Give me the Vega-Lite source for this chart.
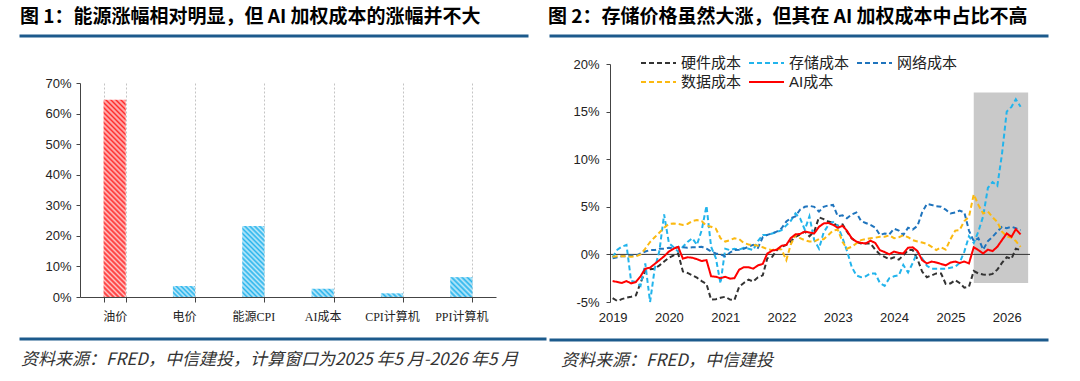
{
  "$schema": "https://vega.github.io/schema/vega-lite/v6.json",
  "background": "white",
  "padding": {"left": 18, "top": 7, "right": 0, "bottom": 0},
  "config": {"view": {"stroke": null}, "font": "Liberation Sans"},
  "datasets": {
    "cost": [
      {"month": "2019-01", "硬件成本": -4.6, "存储成本": -0.3, "网络成本": -0.4, "数据成本": -0.25, "AI成本": -2.8},
      {"month": "2019-02", "硬件成本": -4.9, "存储成本": 0.5, "网络成本": -0.3, "数据成本": -0.2, "AI成本": -2.9},
      {"month": "2019-03", "硬件成本": -4.7, "存储成本": 0.8, "网络成本": -0.2, "数据成本": -0.2, "AI成本": -3.0},
      {"month": "2019-04", "硬件成本": -4.55, "存储成本": 1.0, "网络成本": -0.2, "数据成本": -0.2, "AI成本": -2.8},
      {"month": "2019-05", "硬件成本": -4.45, "存储成本": -2.8, "网络成本": -0.1, "数据成本": -0.25, "AI成本": -3.05},
      {"month": "2019-06", "硬件成本": -4.3, "存储成本": -2.9, "网络成本": -0.15, "数据成本": -0.2, "AI成本": -2.9},
      {"month": "2019-07", "硬件成本": -3.0, "存储成本": -3.3, "网络成本": 0.1, "数据成本": 0.0, "AI成本": -2.3},
      {"month": "2019-08", "硬件成本": -1.7, "存储成本": -0.95, "网络成本": 0.3, "数据成本": 0.6, "AI成本": -1.5},
      {"month": "2019-09", "硬件成本": -1.55, "存储成本": -5.0, "网络成本": 0.45, "数据成本": 1.3, "AI成本": -1.4},
      {"month": "2019-10", "硬件成本": -1.5, "存储成本": -1.5, "网络成本": 0.45, "数据成本": 1.8, "AI成本": -1.0},
      {"month": "2019-11", "硬件成本": -1.15, "存储成本": 0.4, "网络成本": 0.6, "数据成本": 2.3, "AI成本": -0.6},
      {"month": "2019-12", "硬件成本": -0.75, "存储成本": 4.2, "网络成本": 0.6, "数据成本": 2.8, "AI成本": -0.2},
      {"month": "2020-01", "硬件成本": -0.35, "存储成本": 1.2, "网络成本": 0.7, "数据成本": 3.2, "AI成本": 0.3},
      {"month": "2020-02", "硬件成本": -0.1, "存储成本": 0.75, "网络成本": 0.65, "数据成本": 3.25, "AI成本": 0.6},
      {"month": "2020-03", "硬件成本": 0.1, "存储成本": 0.3, "网络成本": 0.75, "数据成本": 3.2, "AI成本": 0.8},
      {"month": "2020-04", "硬件成本": -1.8, "存储成本": 0.8, "网络成本": 0.75, "数据成本": 3.1, "AI成本": -0.45},
      {"month": "2020-05", "硬件成本": -1.95, "存储成本": 1.3, "网络成本": 0.7, "数据成本": 3.2, "AI成本": -0.3},
      {"month": "2020-06", "硬件成本": -2.2, "存储成本": 1.7, "网络成本": 0.75, "数据成本": 3.5, "AI成本": -0.35},
      {"month": "2020-07", "硬件成本": -2.45, "存储成本": 1.0, "网络成本": 0.75, "数据成本": 3.6, "AI成本": -0.5},
      {"month": "2020-08", "硬件成本": -2.8, "存储成本": 2.55, "网络成本": 0.8, "数据成本": 3.5, "AI成本": -0.7},
      {"month": "2020-09", "硬件成本": -3.1, "存储成本": 5.1, "网络成本": 0.6, "数据成本": 3.0, "AI成本": -0.6},
      {"month": "2020-10", "硬件成本": -4.75, "存储成本": 0.8, "网络成本": 0.3, "数据成本": 2.9, "AI成本": -2.3},
      {"month": "2020-11", "硬件成本": -4.7, "存储成本": -0.4, "网络成本": 0.1, "数据成本": 2.7, "AI成本": -2.35},
      {"month": "2020-12", "硬件成本": -4.55, "存储成本": -3.05, "网络成本": 0.0, "数据成本": 1.7, "AI成本": -2.5},
      {"month": "2021-01", "硬件成本": -4.45, "存储成本": 0.6, "网络成本": -0.2, "数据成本": 1.35, "AI成本": -2.35},
      {"month": "2021-02", "硬件成本": -4.75, "存储成本": 0.45, "网络成本": 0.2, "数据成本": 1.5, "AI成本": -2.55},
      {"month": "2021-03", "硬件成本": -4.8, "存储成本": 0.6, "网络成本": 0.45, "数据成本": 1.7, "AI成本": -2.5},
      {"month": "2021-04", "硬件成本": -3.4, "存储成本": 0.5, "网络成本": 0.5, "数据成本": 1.6, "AI成本": -1.6},
      {"month": "2021-05", "硬件成本": -3.0, "存储成本": 0.7, "网络成本": 0.6, "数据成本": 1.2, "AI成本": -1.35},
      {"month": "2021-06", "硬件成本": -2.65, "存储成本": 0.6, "网络成本": 0.8, "数据成本": 1.05, "AI成本": -1.35},
      {"month": "2021-07", "硬件成本": -2.85, "存储成本": 0.45, "网络成本": 1.0, "数据成本": 1.0, "AI成本": -1.5},
      {"month": "2021-08", "硬件成本": -2.4, "存储成本": 1.4, "网络成本": 0.7, "数据成本": 0.9, "AI成本": -1.15},
      {"month": "2021-09", "硬件成本": -2.2, "存储成本": 2.05, "网络成本": 1.8, "数据成本": 0.75, "AI成本": -1.0},
      {"month": "2021-10", "硬件成本": -0.4, "存储成本": 2.05, "网络成本": 2.05, "数据成本": 0.55, "AI成本": 0.1},
      {"month": "2021-11", "硬件成本": -0.25, "存储成本": 2.2, "网络成本": 2.2, "数据成本": 0.45, "AI成本": 0.4},
      {"month": "2021-12", "硬件成本": 0.45, "存储成本": 2.35, "网络成本": 2.4, "数据成本": 0.6, "AI成本": 0.5},
      {"month": "2022-01", "硬件成本": 0.8, "存储成本": 2.55, "网络成本": 2.75, "数据成本": 0.5, "AI成本": 0.9},
      {"month": "2022-02", "硬件成本": 1.0, "存储成本": 3.05, "网络成本": 3.45, "数据成本": -0.6, "AI成本": 1.0},
      {"month": "2022-03", "硬件成本": 1.35, "存储成本": 3.5, "网络成本": 3.8, "数据成本": 1.0, "AI成本": 1.7},
      {"month": "2022-04", "硬件成本": 1.85, "存储成本": 4.3, "网络成本": 4.0, "数据成本": 2.05, "AI成本": 2.1},
      {"month": "2022-05", "硬件成本": 2.1, "存储成本": 3.8, "网络成本": 4.7, "数据成本": 1.7, "AI成本": 2.15},
      {"month": "2022-06", "硬件成本": 2.4, "存储成本": 2.6, "网络成本": 5.0, "数据成本": 1.5, "AI成本": 2.4},
      {"month": "2022-07", "硬件成本": 1.9, "存储成本": 4.0, "网络成本": 5.1, "数据成本": 1.35, "AI成本": 2.3},
      {"month": "2022-08", "硬件成本": 2.4, "存储成本": 1.5, "网络成本": 5.0, "数据成本": 1.35, "AI成本": 2.2},
      {"month": "2022-09", "硬件成本": 3.9, "存储成本": 0.6, "网络成本": 4.5, "数据成本": 1.6, "AI成本": 2.9},
      {"month": "2022-10", "硬件成本": 3.7, "存储成本": 2.3, "网络成本": 5.0, "数据成本": 1.6, "AI成本": 3.25},
      {"month": "2022-11", "硬件成本": 3.45, "存储成本": 3.1, "网络成本": 5.15, "数据成本": 2.05, "AI成本": 3.3},
      {"month": "2022-12", "硬件成本": 3.3, "存储成本": 3.4, "网络成本": 5.2, "数据成本": 2.5, "AI成本": 3.1},
      {"month": "2023-01", "硬件成本": 3.0, "存储成本": 3.0, "网络成本": 4.0, "数据成本": 2.6, "AI成本": 2.8},
      {"month": "2023-02", "硬件成本": 3.15, "存储成本": 1.7, "网络成本": 4.1, "数据成本": 1.3, "AI成本": 3.0},
      {"month": "2023-03", "硬件成本": 2.4, "存储成本": 0.4, "网络成本": 3.8, "数据成本": 0.6, "AI成本": 2.5},
      {"month": "2023-04", "硬件成本": 1.7, "存储成本": -1.3, "网络成本": 4.2, "数据成本": 0.8, "AI成本": 1.7},
      {"month": "2023-05", "硬件成本": 1.3, "存储成本": -2.2, "网络成本": 4.4, "数据成本": 1.15, "AI成本": 1.35},
      {"month": "2023-06", "硬件成本": 1.15, "存储成本": -2.4, "网络成本": 3.5, "数据成本": 1.5, "AI成本": 1.2},
      {"month": "2023-07", "硬件成本": 1.15, "存储成本": -2.3, "网络成本": 3.3, "数据成本": 1.6, "AI成本": 1.15},
      {"month": "2023-08", "硬件成本": 1.15, "存储成本": -2.0, "网络成本": 3.1, "数据成本": 1.7, "AI成本": 1.45},
      {"month": "2023-09", "硬件成本": 0.5, "存储成本": -2.0, "网络成本": 2.8, "数据成本": 1.75, "AI成本": 1.2},
      {"month": "2023-10", "硬件成本": 0.0, "存储成本": -3.0, "网络成本": 2.05, "数据成本": 1.85, "AI成本": 0.45},
      {"month": "2023-11", "硬件成本": -0.25, "存储成本": -3.3, "网络成本": 2.2, "数据成本": 1.85, "AI成本": 0.25},
      {"month": "2023-12", "硬件成本": -0.5, "存储成本": -2.5, "网络成本": 2.1, "数据成本": 2.0, "AI成本": 0.0},
      {"month": "2024-01", "硬件成本": -0.3, "存储成本": -2.3, "网络成本": 2.7, "数据成本": 1.7, "AI成本": 0.3},
      {"month": "2024-02", "硬件成本": -0.55, "存储成本": -2.2, "网络成本": 2.5, "数据成本": 1.8, "AI成本": 0.15},
      {"month": "2024-03", "硬件成本": -0.1, "存储成本": -1.1, "网络成本": 2.05, "数据成本": 2.0, "AI成本": 0.1},
      {"month": "2024-04", "硬件成本": 0.45, "存储成本": -1.9, "网络成本": 2.8, "数据成本": 1.8, "AI成本": 0.7},
      {"month": "2024-05", "硬件成本": 0.45, "存储成本": -0.9, "网络成本": 2.6, "数据成本": 1.5, "AI成本": 0.75},
      {"month": "2024-06", "硬件成本": -0.5, "存储成本": 0.25, "网络成本": 3.0, "数据成本": 1.35, "AI成本": 0.35},
      {"month": "2024-07", "硬件成本": -1.8, "存储成本": -0.4, "网络成本": 4.4, "数据成本": 1.25, "AI成本": -0.6},
      {"month": "2024-08", "硬件成本": -2.4, "存储成本": -1.2, "网络成本": 5.3, "数据成本": 1.1, "AI成本": -0.95},
      {"month": "2024-09", "硬件成本": -2.2, "存储成本": -1.5, "网络成本": 5.2, "数据成本": 0.8, "AI成本": -0.75},
      {"month": "2024-10", "硬件成本": -2.0, "存储成本": -1.5, "网络成本": 5.05, "数据成本": 0.45, "AI成本": -0.85},
      {"month": "2024-11", "硬件成本": -2.0, "存储成本": -1.5, "网络成本": 5.0, "数据成本": 0.75, "AI成本": -1.0},
      {"month": "2024-12", "硬件成本": -3.1, "存储成本": -1.5, "网络成本": 4.7, "数据成本": 0.5, "AI成本": -1.15},
      {"month": "2025-01", "硬件成本": -3.05, "存储成本": -1.4, "网络成本": 4.3, "数据成本": 1.6, "AI成本": -0.85},
      {"month": "2025-02", "硬件成本": -2.7, "存储成本": -1.3, "网络成本": 4.4, "数据成本": 2.5, "AI成本": -0.75},
      {"month": "2025-03", "硬件成本": -3.0, "存储成本": -0.9, "网络成本": 4.6, "数据成本": 2.55, "AI成本": -0.9},
      {"month": "2025-04", "硬件成本": -3.5, "存储成本": 0.3, "网络成本": 4.4, "数据成本": 3.5, "AI成本": -0.75},
      {"month": "2025-05", "硬件成本": -3.4, "存储成本": 1.9, "网络成本": 2.5, "数据成本": 3.95, "AI成本": -0.95},
      {"month": "2025-06", "硬件成本": -1.75, "存储成本": 1.2, "网络成本": 1.4, "数据成本": 6.3, "AI成本": 0.75},
      {"month": "2025-07", "硬件成本": -2.0, "存储成本": 2.4, "网络成本": 1.7, "数据成本": 5.2, "AI成本": 0.45},
      {"month": "2025-08", "硬件成本": -2.1, "存储成本": 4.0, "网络成本": 0.5, "数据成本": 4.3, "AI成本": 0.1},
      {"month": "2025-09", "硬件成本": -2.15, "存储成本": 7.0, "网络成本": 1.4, "数据成本": 4.5, "AI成本": 0.5},
      {"month": "2025-10", "硬件成本": -2.05, "存储成本": 7.6, "网络成本": 1.85, "数据成本": 3.9, "AI成本": 0.35},
      {"month": "2025-11", "硬件成本": -1.6, "存储成本": 7.2, "网络成本": 2.4, "数据成本": 3.4, "AI成本": 0.8},
      {"month": "2025-12", "硬件成本": -0.9, "存储成本": 10.5, "网络成本": 2.9, "数据成本": 2.4, "AI成本": 1.5},
      {"month": "2026-01", "硬件成本": -0.3, "存储成本": 15.0, "网络成本": 2.75, "数据成本": 1.9, "AI成本": 2.2},
      {"month": "2026-02", "硬件成本": -0.45, "存储成本": 15.5, "网络成本": 2.9, "数据成本": 1.75, "AI成本": 1.85},
      {"month": "2026-03", "硬件成本": 0.6, "存储成本": 16.3, "网络成本": 2.75, "数据成本": 1.4, "AI成本": 2.65},
      {"month": "2026-04", "硬件成本": 0.45, "存储成本": 15.5, "网络成本": 2.55, "数据成本": 0.8, "AI成本": 2.1}
    ]
  },
  "spacing": 0,
  "resolve": {"scale": {"color": "independent", "strokeDash": "independent", "strokeWidth": "independent"}},
  "hconcat": [
    {
      "spacing": 10,
      "vconcat": [
        {
          "width": 450,
          "height": 31,
          "data": {"values": [{}]},
          "title": {"text": "图 1：能源涨幅相对明显，但 AI 加权成本的涨幅并不大", "anchor": "start", "frame": "bounds", "dx": 2, "font": "Noto Sans CJK SC", "fontSize": 19, "fontWeight": "bold", "color": "#000000", "offset": 8},
          "mark": {"type": "rule", "color": "#1c5a8c", "strokeWidth": 3},
          "encoding": {
            "x": {"datum": 0, "type": "quantitative", "scale": {"domain": [0, 1], "range": [-60.5, 448.5]}, "axis": null},
            "x2": {"datum": 1},
            "y": {"datum": 1, "type": "quantitative", "scale": {"domain": [0, 1]}, "axis": null}
          }
        },
        {
          "width": 416,
          "height": 214,
          "data": {"values": [
            {"item": "油价", "v": 0.645},
            {"item": "电价", "v": 0.036},
            {"item": "能源CPI", "v": 0.232},
            {"item": "AI成本", "v": 0.027},
            {"item": "CPI计算机", "v": 0.012},
            {"item": "PPI计算机", "v": 0.065}
          ]},
          "mark": {"type": "bar"},
          "encoding": {
            "x": {
              "field": "item", "type": "nominal", "sort": null,
              "scale": {"paddingInner": 0.68, "paddingOuter": 0.34},
              "axis": {"title": null, "labelAngle": 0, "tickBand": "extent", "grid": true, "gridDash": [2, 2], "gridColor": "#c4c4c4", "domainColor": "#444444", "tickColor": "#444444", "tickSize": 5, "labelPadding": 9, "labelFont": "Liberation Serif, Noto Sans CJK SC", "labelFontSize": 12, "labelColor": "#222222"}
            },
            "y": {
              "field": "v", "type": "quantitative",
              "scale": {"domain": [0, 0.7], "nice": false},
              "axis": {"title": null, "values": [0, 0.1, 0.2, 0.3, 0.4, 0.5, 0.6, 0.7], "format": ".0%", "grid": false, "domainColor": "#444444", "tickColor": "#444444", "tickSize": 4, "labelPadding": 5, "labelFont": "Liberation Sans", "labelFontSize": 13, "labelColor": "#222222", "minExtent": 62}
            },
            "fill": {
              "condition": [
                {"test": "datum.item === '油价'", "value": {"gradient": "linear", "x1": 0, "y1": 1, "x2": 0.1237, "y2": -0.0988, "stops": [
                  {"offset": 0, "color": "#ff2b2b"}, {"offset": 0.0114, "color": "#ffc4c4"}, {"offset": 0.0227, "color": "#ff2b2b"}, {"offset": 0.0341, "color": "#ffc4c4"},
                  {"offset": 0.0455, "color": "#ff2b2b"}, {"offset": 0.0568, "color": "#ffc4c4"}, {"offset": 0.0682, "color": "#ff2b2b"}, {"offset": 0.0795, "color": "#ffc4c4"},
                  {"offset": 0.0909, "color": "#ff2b2b"}, {"offset": 0.1023, "color": "#ffc4c4"}, {"offset": 0.1136, "color": "#ff2b2b"}, {"offset": 0.125, "color": "#ffc4c4"},
                  {"offset": 0.1364, "color": "#ff2b2b"}, {"offset": 0.1477, "color": "#ffc4c4"}, {"offset": 0.1591, "color": "#ff2b2b"}, {"offset": 0.1705, "color": "#ffc4c4"},
                  {"offset": 0.1818, "color": "#ff2b2b"}, {"offset": 0.1932, "color": "#ffc4c4"}, {"offset": 0.2045, "color": "#ff2b2b"}, {"offset": 0.2159, "color": "#ffc4c4"},
                  {"offset": 0.2273, "color": "#ff2b2b"}, {"offset": 0.2386, "color": "#ffc4c4"}, {"offset": 0.25, "color": "#ff2b2b"}, {"offset": 0.2614, "color": "#ffc4c4"},
                  {"offset": 0.2727, "color": "#ff2b2b"}, {"offset": 0.2841, "color": "#ffc4c4"}, {"offset": 0.2955, "color": "#ff2b2b"}, {"offset": 0.3068, "color": "#ffc4c4"},
                  {"offset": 0.3182, "color": "#ff2b2b"}, {"offset": 0.3295, "color": "#ffc4c4"}, {"offset": 0.3409, "color": "#ff2b2b"}, {"offset": 0.3523, "color": "#ffc4c4"},
                  {"offset": 0.3636, "color": "#ff2b2b"}, {"offset": 0.375, "color": "#ffc4c4"}, {"offset": 0.3864, "color": "#ff2b2b"}, {"offset": 0.3977, "color": "#ffc4c4"},
                  {"offset": 0.4091, "color": "#ff2b2b"}, {"offset": 0.4205, "color": "#ffc4c4"}, {"offset": 0.4318, "color": "#ff2b2b"}, {"offset": 0.4432, "color": "#ffc4c4"},
                  {"offset": 0.4545, "color": "#ff2b2b"}, {"offset": 0.4659, "color": "#ffc4c4"}, {"offset": 0.4773, "color": "#ff2b2b"}, {"offset": 0.4886, "color": "#ffc4c4"},
                  {"offset": 0.5, "color": "#ff2b2b"}, {"offset": 0.5114, "color": "#ffc4c4"}, {"offset": 0.5227, "color": "#ff2b2b"}, {"offset": 0.5341, "color": "#ffc4c4"},
                  {"offset": 0.5455, "color": "#ff2b2b"}, {"offset": 0.5568, "color": "#ffc4c4"}, {"offset": 0.5682, "color": "#ff2b2b"}, {"offset": 0.5795, "color": "#ffc4c4"},
                  {"offset": 0.5909, "color": "#ff2b2b"}, {"offset": 0.6023, "color": "#ffc4c4"}, {"offset": 0.6136, "color": "#ff2b2b"}, {"offset": 0.625, "color": "#ffc4c4"},
                  {"offset": 0.6364, "color": "#ff2b2b"}, {"offset": 0.6477, "color": "#ffc4c4"}, {"offset": 0.6591, "color": "#ff2b2b"}, {"offset": 0.6705, "color": "#ffc4c4"},
                  {"offset": 0.6818, "color": "#ff2b2b"}, {"offset": 0.6932, "color": "#ffc4c4"}, {"offset": 0.7045, "color": "#ff2b2b"}, {"offset": 0.7159, "color": "#ffc4c4"},
                  {"offset": 0.7273, "color": "#ff2b2b"}, {"offset": 0.7386, "color": "#ffc4c4"}, {"offset": 0.75, "color": "#ff2b2b"}, {"offset": 0.7614, "color": "#ffc4c4"},
                  {"offset": 0.7727, "color": "#ff2b2b"}, {"offset": 0.7841, "color": "#ffc4c4"}, {"offset": 0.7955, "color": "#ff2b2b"}, {"offset": 0.8068, "color": "#ffc4c4"},
                  {"offset": 0.8182, "color": "#ff2b2b"}, {"offset": 0.8295, "color": "#ffc4c4"}, {"offset": 0.8409, "color": "#ff2b2b"}, {"offset": 0.8523, "color": "#ffc4c4"},
                  {"offset": 0.8636, "color": "#ff2b2b"}, {"offset": 0.875, "color": "#ffc4c4"}, {"offset": 0.8864, "color": "#ff2b2b"}, {"offset": 0.8977, "color": "#ffc4c4"},
                  {"offset": 0.9091, "color": "#ff2b2b"}, {"offset": 0.9205, "color": "#ffc4c4"}, {"offset": 0.9318, "color": "#ff2b2b"}, {"offset": 0.9432, "color": "#ffc4c4"},
                  {"offset": 0.9545, "color": "#ff2b2b"}, {"offset": 0.9659, "color": "#ffc4c4"}, {"offset": 0.9773, "color": "#ff2b2b"}, {"offset": 0.9886, "color": "#ffc4c4"},
                  {"offset": 1, "color": "#ff2b2b"}
                ]}},
                {"test": "datum.item === '电价'", "value": {"gradient": "linear", "x1": 0, "y1": 1, "x2": 1.2008, "y2": 0.405, "stops": [
                  {"offset": 0, "color": "#27b4ec"}, {"offset": 0.0714, "color": "#c2eafa"}, {"offset": 0.1429, "color": "#27b4ec"}, {"offset": 0.2143, "color": "#c2eafa"},
                  {"offset": 0.2857, "color": "#27b4ec"}, {"offset": 0.3571, "color": "#c2eafa"}, {"offset": 0.4286, "color": "#27b4ec"}, {"offset": 0.5, "color": "#c2eafa"},
                  {"offset": 0.5714, "color": "#27b4ec"}, {"offset": 0.6429, "color": "#c2eafa"}, {"offset": 0.7143, "color": "#27b4ec"}, {"offset": 0.7857, "color": "#c2eafa"},
                  {"offset": 0.8571, "color": "#27b4ec"}, {"offset": 0.9286, "color": "#c2eafa"}, {"offset": 1, "color": "#27b4ec"}
                ]}},
                {"test": "datum.item === '能源CPI'", "value": {"gradient": "linear", "x1": 0, "y1": 1, "x2": 0.3744, "y2": -0.1958, "stops": [
                  {"offset": 0, "color": "#27b4ec"}, {"offset": 0.0263, "color": "#c2eafa"}, {"offset": 0.0526, "color": "#27b4ec"}, {"offset": 0.0789, "color": "#c2eafa"},
                  {"offset": 0.1053, "color": "#27b4ec"}, {"offset": 0.1316, "color": "#c2eafa"}, {"offset": 0.1579, "color": "#27b4ec"}, {"offset": 0.1842, "color": "#c2eafa"},
                  {"offset": 0.2105, "color": "#27b4ec"}, {"offset": 0.2368, "color": "#c2eafa"}, {"offset": 0.2632, "color": "#27b4ec"}, {"offset": 0.2895, "color": "#c2eafa"},
                  {"offset": 0.3158, "color": "#27b4ec"}, {"offset": 0.3421, "color": "#c2eafa"}, {"offset": 0.3684, "color": "#27b4ec"}, {"offset": 0.3947, "color": "#c2eafa"},
                  {"offset": 0.4211, "color": "#27b4ec"}, {"offset": 0.4474, "color": "#c2eafa"}, {"offset": 0.4737, "color": "#27b4ec"}, {"offset": 0.5, "color": "#c2eafa"},
                  {"offset": 0.5263, "color": "#27b4ec"}, {"offset": 0.5526, "color": "#c2eafa"}, {"offset": 0.5789, "color": "#27b4ec"}, {"offset": 0.6053, "color": "#c2eafa"},
                  {"offset": 0.6316, "color": "#27b4ec"}, {"offset": 0.6579, "color": "#c2eafa"}, {"offset": 0.6842, "color": "#27b4ec"}, {"offset": 0.7105, "color": "#c2eafa"},
                  {"offset": 0.7368, "color": "#27b4ec"}, {"offset": 0.7632, "color": "#c2eafa"}, {"offset": 0.7895, "color": "#27b4ec"}, {"offset": 0.8158, "color": "#c2eafa"},
                  {"offset": 0.8421, "color": "#27b4ec"}, {"offset": 0.8684, "color": "#c2eafa"}, {"offset": 0.8947, "color": "#27b4ec"}, {"offset": 0.9211, "color": "#c2eafa"},
                  {"offset": 0.9474, "color": "#27b4ec"}, {"offset": 0.9737, "color": "#c2eafa"}, {"offset": 1, "color": "#27b4ec"}
                ]}},
                {"test": "datum.item === 'AI成本'", "value": {"gradient": "linear", "x1": 0, "y1": 1, "x2": 1.2052, "y2": 0.5521, "stops": [
                  {"offset": 0, "color": "#27b4ec"}, {"offset": 0.0833, "color": "#c2eafa"}, {"offset": 0.1667, "color": "#27b4ec"}, {"offset": 0.25, "color": "#c2eafa"},
                  {"offset": 0.3333, "color": "#27b4ec"}, {"offset": 0.4167, "color": "#c2eafa"}, {"offset": 0.5, "color": "#27b4ec"}, {"offset": 0.5833, "color": "#c2eafa"},
                  {"offset": 0.6667, "color": "#27b4ec"}, {"offset": 0.75, "color": "#c2eafa"}, {"offset": 0.8333, "color": "#27b4ec"}, {"offset": 0.9167, "color": "#c2eafa"},
                  {"offset": 1, "color": "#27b4ec"}
                ]}},
                {"test": "datum.item === 'CPI计算机'", "value": {"gradient": "linear", "x1": 0, "y1": 1, "x2": 1.1343, "y2": 0.8125, "stops": [
                  {"offset": 0, "color": "#27b4ec"}, {"offset": 0.1, "color": "#c2eafa"}, {"offset": 0.2, "color": "#27b4ec"}, {"offset": 0.3, "color": "#c2eafa"},
                  {"offset": 0.4, "color": "#27b4ec"}, {"offset": 0.5, "color": "#c2eafa"}, {"offset": 0.6, "color": "#27b4ec"}, {"offset": 0.7, "color": "#c2eafa"},
                  {"offset": 0.8, "color": "#27b4ec"}, {"offset": 0.9, "color": "#c2eafa"}, {"offset": 1, "color": "#27b4ec"}
                ]}},
                {"test": "datum.item === 'PPI计算机'", "value": {"gradient": "linear", "x1": 0, "y1": 1, "x2": 1.0522, "y2": 0.0582, "stops": [
                  {"offset": 0, "color": "#27b4ec"}, {"offset": 0.0625, "color": "#c2eafa"}, {"offset": 0.125, "color": "#27b4ec"}, {"offset": 0.1875, "color": "#c2eafa"},
                  {"offset": 0.25, "color": "#27b4ec"}, {"offset": 0.3125, "color": "#c2eafa"}, {"offset": 0.375, "color": "#27b4ec"}, {"offset": 0.4375, "color": "#c2eafa"},
                  {"offset": 0.5, "color": "#27b4ec"}, {"offset": 0.5625, "color": "#c2eafa"}, {"offset": 0.625, "color": "#27b4ec"}, {"offset": 0.6875, "color": "#c2eafa"},
                  {"offset": 0.75, "color": "#27b4ec"}, {"offset": 0.8125, "color": "#c2eafa"}, {"offset": 0.875, "color": "#27b4ec"}, {"offset": 0.9375, "color": "#c2eafa"},
                  {"offset": 1, "color": "#27b4ec"}
                ]}}
              ],
              "value": "#27b4ec"
            }
          }
        },
        {
          "width": 468,
          "height": 7,
          "data": {"values": [{}]},
          "title": {"text": "资料来源：FRED，中信建投，计算窗口为2025 年5 月-2026 年5 月", "orient": "bottom", "anchor": "start", "frame": "bounds", "dx": 3, "font": "Noto Sans CJK SC", "fontSize": 17, "fontStyle": "italic", "fontWeight": "normal", "color": "#333333", "offset": 11},
          "mark": {"type": "rule", "color": "#1c5a8c", "strokeWidth": 3},
          "encoding": {
            "x": {"datum": 0, "type": "quantitative", "scale": {"domain": [0, 1], "range": [-60.5, 466.5]}, "axis": null},
            "x2": {"datum": 1},
            "y": {"datum": 0, "type": "quantitative", "scale": {"domain": [0, 1]}, "axis": null}
          }
        }
      ]
    },
    {
      "spacing": 4,
      "resolve": {"scale": {"color": "independent", "strokeDash": "independent", "strokeWidth": "independent"}},
      "vconcat": [
        {
          "width": 440,
          "height": 12.5,
          "data": {"values": [{}]},
          "title": {"text": "图 2：存储价格虽然大涨，但其在 AI 加权成本中占比不高", "anchor": "start", "frame": "bounds", "font": "Noto Sans CJK SC", "fontSize": 19, "fontWeight": "bold", "color": "#000000", "offset": 8},
          "mark": {"type": "rule", "color": "#1c5a8c", "strokeWidth": 3},
          "encoding": {
            "x": {"datum": 0, "type": "quantitative", "scale": {"domain": [0, 1], "range": [-60.5, 438.5]}, "axis": null},
            "x2": {"datum": 1},
            "y": {"datum": 1, "type": "quantitative", "scale": {"domain": [0, 1]}, "axis": null}
          }
        },
        {
          "width": 420,
          "height": 238,
          "layer": [
            {
              "data": {"values": [{"from": "2025-06-01", "to": "2026-05-20"}]},
              "mark": {"type": "rect", "color": "#c9c9c9"},
              "encoding": {
                "x": {"field": "from", "type": "temporal", "scale": {"type": "utc"}},
                "x2": {"field": "to"},
                "y": {"datum": -3, "type": "quantitative"},
                "y2": {"datum": 17}
              }
            },
            {
              "data": {"values": [{}]},
              "mark": {"type": "rule", "color": "#333333", "strokeWidth": 1},
              "encoding": {"y": {"datum": 0, "type": "quantitative"}}
            },
            {
              "data": {"name": "cost"},
              "transform": [{"fold": ["硬件成本", "存储成本", "网络成本", "数据成本", "AI成本"], "as": ["series", "value"]}],
              "mark": {"type": "line"},
              "encoding": {
                "x": {
                  "field": "month", "type": "temporal",
                  "scale": {"type": "utc", "domain": [{"year": 2018, "month": 12, "date": 15, "utc": true}, {"year": 2026, "month": 6, "date": 1, "utc": true}]},
                  "axis": {"title": null, "values": [
                    {"year": 2019, "month": 1, "date": 1, "utc": true}, {"year": 2020, "month": 1, "date": 1, "utc": true},
                    {"year": 2021, "month": 1, "date": 1, "utc": true}, {"year": 2022, "month": 1, "date": 1, "utc": true},
                    {"year": 2023, "month": 1, "date": 1, "utc": true}, {"year": 2024, "month": 1, "date": 1, "utc": true},
                    {"year": 2025, "month": 1, "date": 1, "utc": true}, {"year": 2026, "month": 1, "date": 1, "utc": true}
                  ], "format": "%Y", "domain": false, "ticks": false, "grid": false, "labelPadding": 9, "labelFlush": false, "labelOverlap": false, "labelFont": "Liberation Sans", "labelFontSize": 13, "labelColor": "#222222"}
                },
                "y": {
                  "field": "value", "type": "quantitative",
                  "scale": {"domain": [-5, 20], "nice": false, "zero": false},
                  "axis": {"title": null, "values": [-5, 0, 5, 10, 15, 20], "labelExpr": "datum.value + '%'", "grid": false, "domainColor": "#444444", "tickColor": "#444444", "tickSize": 4, "labelPadding": 7, "labelFont": "Liberation Sans", "labelFontSize": 13, "labelColor": "#222222", "minExtent": 62}
                },
                "color": {
                  "field": "series", "type": "nominal",
                  "scale": {"domain": ["硬件成本", "存储成本", "网络成本", "数据成本", "AI成本"], "range": ["#333333", "#22b4ec", "#1f74bd", "#fbb911", "#ff0000"]},
                  "legend": {"title": null, "orient": "none", "legendX": 30, "legendY": -10.5, "direction": "horizontal", "columns": 3, "columnPadding": 6, "rowPadding": 0, "clipHeight": 19, "symbolType": "stroke", "symbolSize": 1225, "labelOffset": 4, "labelFont": "Liberation Sans, Noto Sans CJK SC", "labelFontSize": 15, "labelColor": "#222222", "padding": 0}
                },
                "strokeDash": {
                  "field": "series", "type": "nominal",
                  "scale": {"domain": ["硬件成本", "存储成本", "网络成本", "数据成本", "AI成本"], "range": [[5, 3], [5, 3], [5, 3], [5, 3], [1, 0]]}
                },
                "strokeWidth": {
                  "field": "series", "type": "nominal",
                  "scale": {"domain": ["硬件成本", "存储成本", "网络成本", "数据成本", "AI成本"], "range": [2, 2, 2, 2, 3]}
                }
              }
            }
          ]
        },
        {
          "width": 440,
          "height": 12,
          "data": {"values": [{}]},
          "title": {"text": "资料来源：FRED，中信建投", "orient": "bottom", "anchor": "start", "frame": "bounds", "dx": 13, "font": "Noto Sans CJK SC", "fontSize": 17, "fontStyle": "italic", "fontWeight": "normal", "color": "#333333", "offset": 11},
          "mark": {"type": "rule", "color": "#1c5a8c", "strokeWidth": 3},
          "encoding": {
            "x": {"datum": 0, "type": "quantitative", "scale": {"domain": [0, 1], "range": [-60.5, 438.5]}, "axis": null},
            "x2": {"datum": 1},
            "y": {"datum": 0, "type": "quantitative", "scale": {"domain": [0, 1]}, "axis": null}
          }
        }
      ]
    }
  ]
}
